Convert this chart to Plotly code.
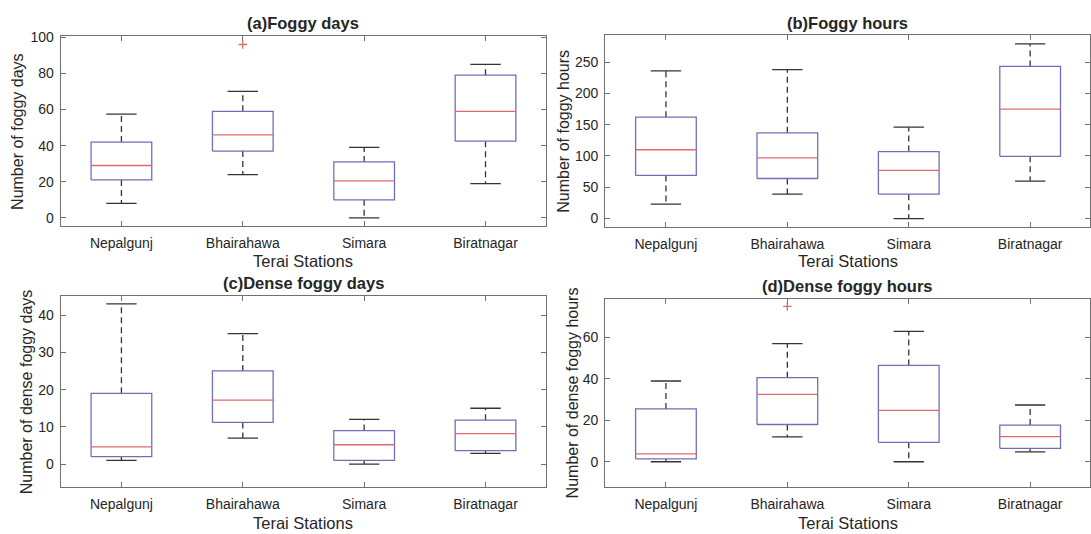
import plotly.graph_objects as go

stations = ["Nepalgunj", "Bhairahawa", "Simara", "Biratnagar"]

# (a) Foggy days
fd_low = [8, 24, 0, 19]
fd_q1 = [21, 37, 10, 42.5]
fd_med = [29, 46, 20.5, 59]
fd_q3 = [42, 59, 31, 79]
fd_high = [57.5, 70, 39, 85]
fd_out = [[], [96], [], []]

# (b) Foggy hours
fh_low = [23, 39, 0, 60]
fh_q1 = [69, 64, 39, 99.5]
fh_med = [110, 97, 77, 175]
fh_q3 = [162, 137, 107, 243]
fh_high = [236, 238, 146, 279]
fh_out = [[], [], [], []]

# (c) Dense foggy days
dd_low = [1, 7, 0, 2.9]
dd_q1 = [2, 11.2, 1, 3.6]
dd_med = [4.6, 17.2, 5.2, 8.2]
dd_q3 = [19, 25, 9, 11.8]
dd_high = [43, 35, 12, 15]
dd_out = [[], [], [], []]

# (d) Dense foggy hours
dh_low = [0, 12, 0, 4.8]
dh_q1 = [1.4, 18, 9.4, 6.5]
dh_med = [3.8, 32.5, 24.8, 12.1]
dh_q3 = [25.5, 40.6, 46.5, 17.7]
dh_high = [39, 57, 63, 27.4]
dh_out = [[], [75], [], []]

panels = [
    dict(title="(a)Foggy days", ytitle="Number of foggy days",
         data=(fd_low, fd_q1, fd_med, fd_q3, fd_high, fd_out),
         yrange=[-4.6, 100.9], ytick=[0, 20, 40, 60, 80, 100]),
    dict(title="(b)Foggy hours", ytitle="Number of foggy hours",
         data=(fh_low, fh_q1, fh_med, fh_q3, fh_high, fh_out),
         yrange=[-14.2, 293.3], ytick=[0, 50, 100, 150, 200, 250]),
    dict(title="(c)Dense foggy days", ytitle="Number of dense foggy days",
         data=(dd_low, dd_q1, dd_med, dd_q3, dd_high, dd_out),
         yrange=[-6.1, 45.2], ytick=[0, 10, 20, 30, 40]),
    dict(title="(d)Dense foggy hours", ytitle="Number of dense foggy hours",
         data=(dh_low, dh_q1, dh_med, dh_q3, dh_high, dh_out),
         yrange=[-12.1, 78.6], ytick=[0, 20, 40, 60]),
]

W, H = 1091, 534
# pixel frames: left, right, top, bottom
frames = [
    (60.8, 546.7, 30.0, 222.7),
    (605.8, 1091.0, 29.3, 224.0),
    (60.8, 546.7, 293.0, 486.3),
    (605.8, 1091.0, 296.3, 486.3),
]
xranges = [[0.5, 4.5], [0.5, 4.493], [0.5, 4.5], [0.5, 4.493]]
title_y = [16.7, 16.7, 280.3, 283.0]
xtitle_y = [258, 258, 523, 523]
ytitle_x = [18, 564, 26, 573]

FONT = "Liberation Sans, Arial, Helvetica, sans-serif"
TXT = "#262626"
FRAME = "#707070"
BOXC = "#6f6fb8"
MEDC = "#e06a6a"
WHC = "#333333"

fig = go.Figure()
annotations = []

for k, p in enumerate(panels):
    low, q1, med, q3, high, outs = p["data"]
    xa = "x" if k == 0 else f"x{k+1}"
    ya = "y" if k == 0 else f"y{k+1}"
    bx, by, mx, my, wx, wy, cx, cy, ox, oy = [], [], [], [], [], [], [], [], [], []
    for i in range(len(stations)):
        c = i + 1
        hw, cw = 0.25, 0.125
        bx += [c - hw, c + hw, c + hw, c - hw, c - hw, None]
        by += [q1[i], q1[i], q3[i], q3[i], q1[i], None]
        mx += [c - hw, c + hw, None]
        my += [med[i], med[i], None]
        wx += [c, c, None, c, c, None]
        wy += [q3[i], high[i], None, q1[i], low[i], None]
        cx += [c - cw, c + cw, None, c - cw, c + cw, None]
        cy += [high[i], high[i], None, low[i], low[i], None]
        for v in outs[i]:
            ox.append(c)
            oy.append(v)
    common = dict(xaxis=xa, yaxis=ya, showlegend=False, hoverinfo="skip")
    fig.add_trace(go.Scatter(x=wx, y=wy, mode="lines",
                             line=dict(color=WHC, width=1.3, dash="6px,4px"), **common))
    fig.add_trace(go.Scatter(x=cx, y=cy, mode="lines",
                             line=dict(color=WHC, width=1.3), **common))
    fig.add_trace(go.Scatter(x=bx, y=by, mode="lines",
                             line=dict(color=BOXC, width=1.3), **common))
    fig.add_trace(go.Scatter(x=mx, y=my, mode="lines",
                             line=dict(color=MEDC, width=1.3), **common))
    if ox:
        fig.add_trace(go.Scatter(x=ox, y=oy, mode="markers",
                                 marker=dict(symbol="cross-thin", size=6,
                                             line=dict(color=MEDC, width=1.3)),
                                 **common))

    l, r, t, b = frames[k]
    xdom = [l / W, min(r / W, 1.0)]
    ydom = [1 - b / H, 1 - t / H]
    axn = "" if k == 0 else str(k + 1)
    fig.update_layout(**{
        f"xaxis{axn}": dict(
            domain=xdom, range=xranges[k], anchor=ya,
            tickmode="array", tickvals=[1, 2, 3, 4], ticktext=stations,
            ticks="inside", ticklen=5, tickcolor=FRAME, mirror="ticks",
            showline=True, linecolor=FRAME, linewidth=1.2,
            showgrid=False, zeroline=False,
            tickfont=dict(family=FONT, size=14, color=TXT),
            ticklabelstandoff=4,
        ),
        f"yaxis{axn}": dict(
            domain=ydom, range=p["yrange"], anchor=xa,
            tickmode="array", tickvals=p["ytick"],
            ticks="inside", ticklen=5, tickcolor=FRAME, mirror="ticks",
            showline=True, linecolor=FRAME, linewidth=1.2,
            showgrid=False, zeroline=False,
            tickfont=dict(family=FONT, size=14, color=TXT),
            ticklabelstandoff=3,
        ),
    })
    cxp = (l + min(r, 1092)) / 2 / W
    annotations.append(dict(text=f"<b>{p['title']}</b>", x=cxp, y=1 - title_y[k] / H,
                            xref="paper", yref="paper", showarrow=False,
                            xanchor="center", yanchor="middle",
                            font=dict(family=FONT, size=16.5, color=TXT)))
    annotations.append(dict(text="Terai Stations", x=cxp, y=1 - xtitle_y[k] / H,
                            xref="paper", yref="paper", showarrow=False,
                            xanchor="center", yanchor="middle",
                            font=dict(family=FONT, size=16.5, color=TXT)))
    annotations.append(dict(text=p["ytitle"], x=ytitle_x[k] / W, y=1 - (t + b) / 2 / H,
                            xref="paper", yref="paper", showarrow=False, textangle=-90,
                            xanchor="center", yanchor="middle",
                            font=dict(family=FONT, size=16, color=TXT)))

fig.update_layout(
    width=W, height=H,
    margin=dict(l=0, r=0, t=0, b=0),
    paper_bgcolor="white", plot_bgcolor="white",
    annotations=annotations,
)

fig.write_html("out.html", config={"displayModeBar": False},
               post_script="document.body.style.margin='0px';document.body.style.overflow='hidden';")
